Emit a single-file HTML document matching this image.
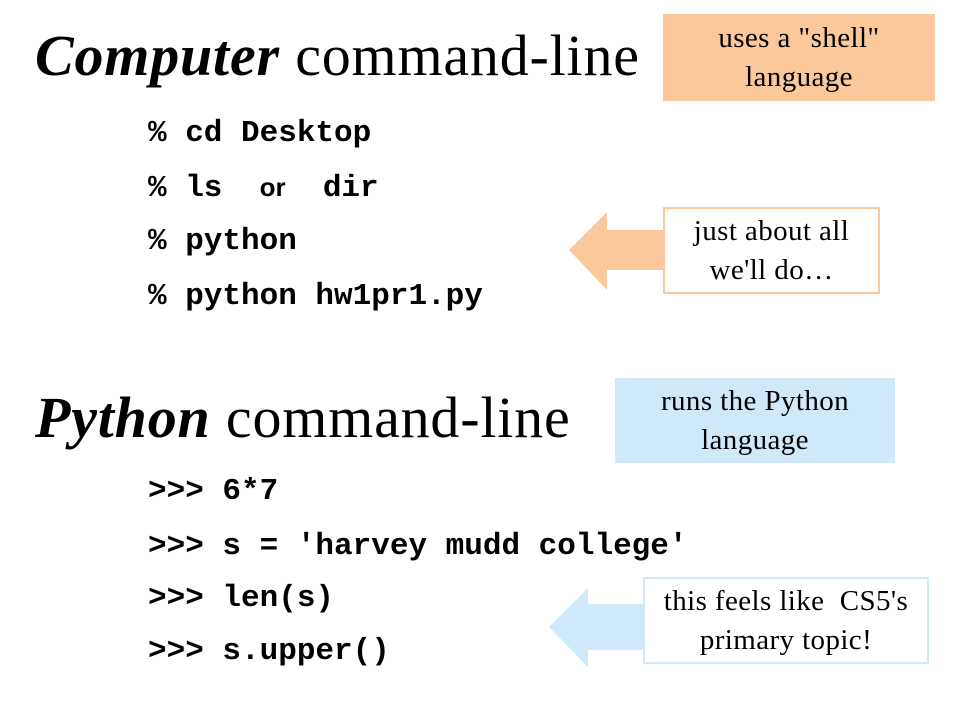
<html><head><style>
body{margin:0;width:960px;height:720px;background:#fff;position:relative;overflow:hidden;font-family:"Liberation Serif",serif}
.t{position:absolute;font-size:58px;white-space:nowrap;color:#000;letter-spacing:0.8px}
.c{position:absolute;left:148px;font-family:"Liberation Mono",monospace;font-weight:bold;font-size:31px;white-space:pre;line-height:34px}
.b{position:absolute;display:flex;align-items:center;justify-content:center;text-align:center;font-size:29px;letter-spacing:0.4px;line-height:39px;box-sizing:border-box}
</style></head><body>
<div class="t" style="left:35px;top:22px"><b><i>Computer</i></b> command-line</div>
<div class="t" style="left:35px;top:384px"><b><i>Python</i></b> command-line</div>
<div class="c" style="top:117px">% cd Desktop</div>
<div class="c" style="top:170px">% ls  <span style="font-family:'Liberation Sans',sans-serif;font-size:26px">or</span>  dir</div>
<div class="c" style="top:225px">% python</div>
<div class="c" style="top:280px">% python hw1pr1.py</div>
<div class="c" style="top:475px">&gt;&gt;&gt; 6*7</div>
<div class="c" style="top:530px">&gt;&gt;&gt; s = 'harvey mudd college'</div>
<div class="c" style="top:582px">&gt;&gt;&gt; len(s)</div>
<div class="c" style="top:635px">&gt;&gt;&gt; s.upper()</div>
<svg width="960" height="720" style="position:absolute;left:0;top:0">
<polygon points="569,250 607,212 607,230 665,230 665,270 607,270 607,290" fill="#fbc89b"/>
<polygon points="549,627 588,588 588,604 645,604 645,650 588,650 588,667" fill="#cfe9f9"/>
</svg>
<div class="b" style="left:663px;top:14px;width:272px;height:87px;background:#fbc89b">uses a "shell"<br>language</div>
<div class="b" style="left:663px;top:207px;width:217px;height:87px;background:#fff;border:2px solid #fbc89b">just about all<br>we'll do…</div>
<div class="b" style="left:615px;top:378px;width:280px;height:85px;background:#cfe9f9">runs the Python<br>language</div>
<div class="b" style="left:643px;top:577px;width:286px;height:87px;background:#fff;border:2px solid #cfe9f9">this feels like&nbsp; CS5's<br>primary topic!</div>
</body></html>
